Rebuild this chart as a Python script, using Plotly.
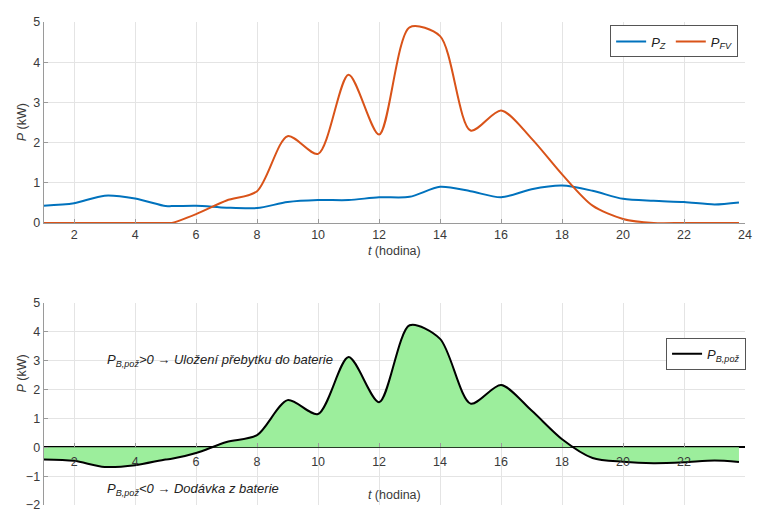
import plotly.graph_objects as go

# Hourly time axis (last sample just before midnight)
t = [1, 2, 3, 4, 5, 5.2, 6, 7, 8, 9, 10, 11, 12, 13, 14, 15, 16, 17, 18, 19, 20, 21, 22, 23, 23.8]

# Load demand P_Z (kW)
p_z = [0.43, 0.49, 0.68, 0.61, 0.42, 0.42, 0.43, 0.38, 0.37, 0.52, 0.57, 0.57, 0.64, 0.65,
       0.90, 0.79, 0.64, 0.84, 0.93, 0.80, 0.60, 0.55, 0.52, 0.46, 0.51]

# PV production P_FV (kW)
p_fv = [0.0, 0.0, 0.0, 0.0, 0.0, 0.0, 0.22, 0.56, 0.79, 2.16, 1.72, 3.69, 2.20, 4.87,
        4.65, 2.30, 2.80, 2.10, 1.21, 0.43, 0.10, 0.0, 0.0, 0.0, 0.0]

# Required battery power P_B,pož (kW)
p_b = [-0.42, -0.47, -0.68, -0.62, -0.42, -0.40, -0.20, 0.18, 0.42, 1.63, 1.15, 3.12, 1.56,
       4.22, 3.75, 1.51, 2.15, 1.27, 0.28, -0.37, -0.50, -0.55, -0.52, -0.46, -0.51]

x_ticks = list(range(2, 25, 2))
x_ticks_bottom_text = [str(v) for v in range(2, 23, 2)] + [""]

W, H = 759, 515
FONT = "Liberation Sans, Arial, sans-serif"
TXT = "#3a3a3a"
GRID = "#e4e4e4"
AXL = "#9a9a9a"

def py(px):
    return (H - px) / H

x_dom = [44 / W, 752 / W]
y1_dom = [py(222), py(15.5)]
y2_dom = [py(512), py(304)]
origin2 = y2_dom[0] + (2 / 7) * (y2_dom[1] - y2_dom[0])

spline = dict(shape="spline", smoothing=0.8)

fig = go.Figure()

fig.add_trace(go.Scatter(
    x=t, y=p_z, mode="lines", name="<i>P</i><sub><i>Z</i></sub>",
    line=dict(color="#0072BD", width=2, **spline),
    xaxis="x", yaxis="y", legend="legend"))
fig.add_trace(go.Scatter(
    x=t, y=p_fv, mode="lines", name="<i>P</i><sub><i>FV</i></sub>",
    line=dict(color="#D95319", width=2, **spline),
    xaxis="x", yaxis="y", legend="legend"))

# Battery power: green area plus black outline
fig.add_trace(go.Scatter(
    x=t, y=p_b, mode="lines", fill="tozeroy", fillcolor="#9CEE9C",
    line=dict(color="rgba(0,0,0,0)", width=0, **spline),
    xaxis="x2", yaxis="y2", showlegend=False, hoverinfo="skip"))
fig.add_trace(go.Scatter(
    x=t, y=p_b, mode="lines", name="<i>P</i><sub><i>B,pož</i></sub>",
    line=dict(color="black", width=2, **spline),
    xaxis="x2", yaxis="y2", legend="legend2"))

axis_common = dict(
    showgrid=True, gridcolor=GRID, gridwidth=1,
    showline=True, linecolor=AXL, linewidth=1,
    ticks="inside", ticklen=4, tickcolor=AXL,
    tickfont=dict(family=FONT, size=12.5, color=TXT),
)

fig.update_layout(
    width=W, height=H,
    margin=dict(l=0, r=0, t=0, b=0),
    paper_bgcolor="white", plot_bgcolor="white",
    font=dict(family=FONT, color=TXT),
    xaxis=dict(domain=x_dom, anchor="y", range=[1, 24], tickvals=x_ticks,
               zeroline=False,
               title=dict(text="<i>t</i> (hodina)", standoff=5,
                          font=dict(family=FONT, size=12.5, color=TXT)),
               **axis_common),
    yaxis=dict(domain=y1_dom, anchor="x", range=[0, 5], tickvals=[0, 1, 2, 3, 4, 5],
               zeroline=False, **axis_common),
    xaxis2=dict(domain=x_dom, anchor="free", position=origin2, range=[1, 24],
                tickvals=x_ticks, ticktext=x_ticks_bottom_text, zeroline=False,
                ticklabelstandoff=5,
                title=dict(text="<i>t</i> (hodina)", standoff=22,
                           font=dict(family=FONT, size=12.5, color=TXT)),
                **{**axis_common, "showline": False}),
    yaxis2=dict(domain=y2_dom, anchor="x2", range=[-2, 5],
                tickvals=[-2, -1, 0, 1, 2, 3, 4, 5],
                zeroline=True, zerolinecolor="black", zerolinewidth=2,
                **axis_common),
    legend=dict(
        orientation="h", x=745 / W, xanchor="right", y=py(19), yanchor="top",
        bgcolor="white", bordercolor="#555", borderwidth=1,
        font=dict(family=FONT, size=13, color="#222"),
        itemwidth=30, tracegroupgap=0),
    legend2=dict(
        orientation="h", x=753 / W, xanchor="right", y=py(340), yanchor="top",
        bgcolor="white", bordercolor="#555", borderwidth=1,
        font=dict(family=FONT, size=13, color="#222"),
        itemwidth=30),
    showlegend=True,
)

# Vertical axis labels
for yc in [(py(222) + py(15.5)) / 2, py(377)]:
    fig.add_annotation(
        text="<i>P</i> (kW)", x=22 / W, y=yc, xref="paper", yref="paper",
        xanchor="center", yanchor="middle",
        textangle=-90, showarrow=False,
        font=dict(family=FONT, size=12.5, color=TXT))

# Explanatory notes for the sign of battery power
fig.add_annotation(
    text="<i>P</i><sub><i>B,pož</i></sub><i>>0 → Uložení přebytku do baterie</i>",
    x=106 / W, y=py(363), xref="paper", yref="paper", xanchor="left", yanchor="middle",
    showarrow=False, font=dict(family=FONT, size=13, color="#222"))
fig.add_annotation(
    text="<i>P</i><sub><i>B,pož</i></sub><i><0 → Dodávka z baterie</i>",
    x=106 / W, y=py(496), xref="paper", yref="paper", xanchor="left", yanchor="middle",
    showarrow=False, font=dict(family=FONT, size=13, color="#222"))

fig.write_html("out.html")
